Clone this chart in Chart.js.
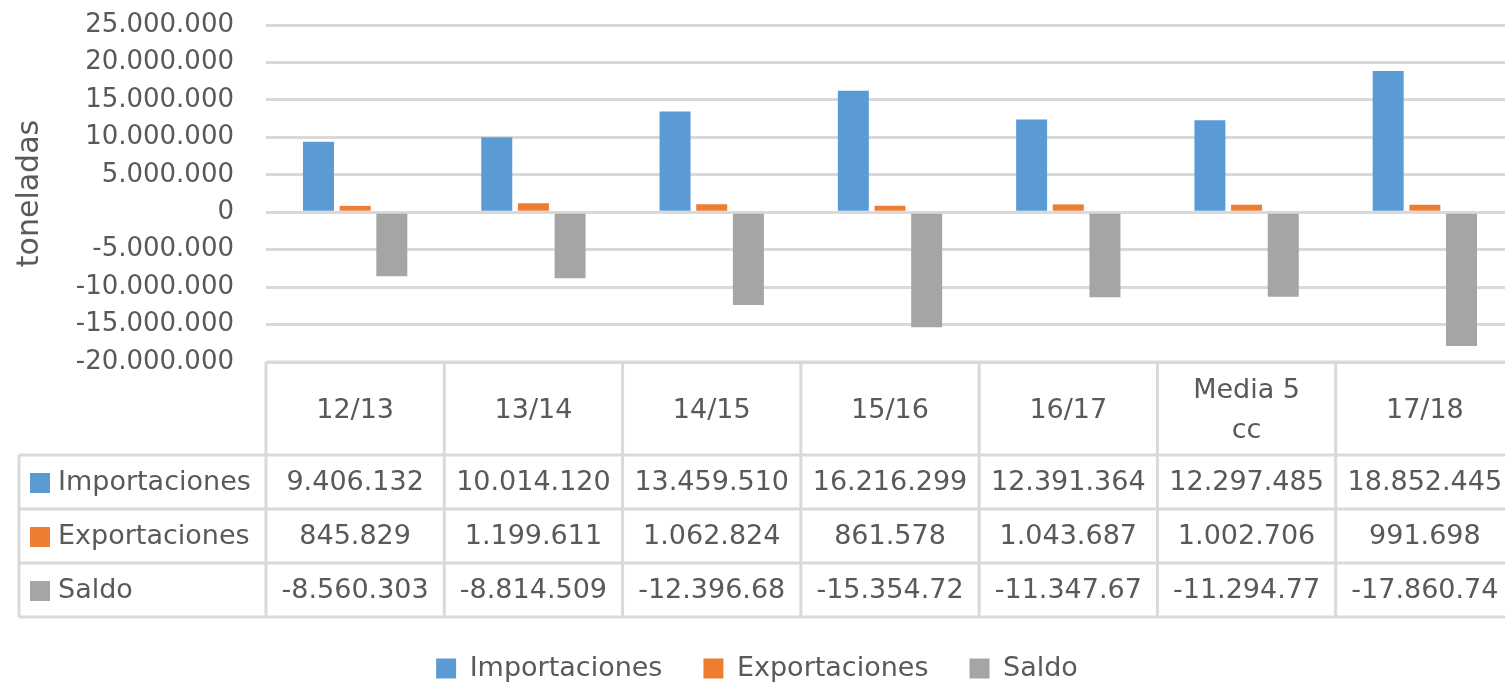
<!DOCTYPE html>
<html>
<head>
<meta charset="utf-8">
<script src="https://cdn.jsdelivr.net/npm/chart.js@4.4.0/dist/chart.umd.min.js"></script>
<style>
  html, body { margin: 0; padding: 0; overflow: hidden; background: #fff; }
  #wrap { width: 1505px; height: 685px; overflow: hidden; }
  canvas { display: block; }
</style>
</head>
<body>
<div id="wrap"><canvas id="chart" width="1514" height="692"></canvas></div>
<script>
  // Campañas (cabecera de la tabla)
  const categorias = ['12/13', '13/14', '14/15', '15/16', '16/17', ['Media 5', 'cc'], '17/18'];

  // toneladas
  const importaciones = [9406132, 10014120, 13459510, 16216299, 12391364, 12297485, 18852445];
  const exportaciones = [845829, 1199611, 1062824, 861578, 1043687, 1002706, 991698];
  const saldo = [-8560303, -8814509, -12396680, -15354720, -11347670, -11294770, -17860740];

  // Excel corta los saldos largos en la tabla
  const saldoTexto = ['-8.560.303', '-8.814.509', '-12.396.68', '-15.354.72', '-11.347.67', '-11.294.77', '-17.860.74'];

  const yMin = -20000000;
  const yMax = 25000000;
  const yStep = 5000000;

  const colores = ['#5b9bd5', '#ed7d31', '#a5a5a5'];
  const textColor = '#595959';
  const lineColor = '#d9d9d9';
  const plotBottom = 362;

  function fmt(v) {
    return String(v).replace(/\B(?=(\d{3})+(?!\d))/g, '.');
  }

  // Data table under the plot, columns taken from the x scale
  const tablaDatos = {
    id: 'tablaDatos',
    afterDraw(chart) {
      const { ctx, chartArea, scales: { x } } = chart;
      const colW = x.width / categorias.length;
      const top = chartArea.bottom;
      const headerH = 93;
      const rowH = 54;
      const tableLeft = 19;
      const bottom = top + headerH + rowH * 3;
      const right = chartArea.right;

      const ds = chart.data.datasets;
      const rows = [
        { label: ds[0].label, color: ds[0].backgroundColor, texts: importaciones.map(fmt) },
        { label: ds[1].label, color: ds[1].backgroundColor, texts: exportaciones.map(fmt) },
        { label: ds[2].label, color: ds[2].backgroundColor, texts: saldoTexto }
      ];

      ctx.save();
      ctx.strokeStyle = lineColor;
      ctx.lineWidth = 3;
      ctx.beginPath();
      ctx.moveTo(chartArea.left, top);
      ctx.lineTo(right, top);
      for (let k = 0; k <= 3; k++) {
        const yy = top + headerH + rowH * k;
        ctx.moveTo(tableLeft, yy);
        ctx.lineTo(right, yy);
      }
      ctx.moveTo(tableLeft, top + headerH);
      ctx.lineTo(tableLeft, bottom);
      for (let i = 0; i <= categorias.length; i++) {
        const xx = chartArea.left + i * colW;
        ctx.moveTo(xx, top);
        ctx.lineTo(xx, bottom);
      }
      ctx.stroke();

      ctx.fillStyle = textColor;
      ctx.font = '27px "DejaVu Sans"';
      ctx.textBaseline = 'middle';
      ctx.textAlign = 'center';
      categorias.forEach((c, i) => {
        const cx = x.getPixelForValue(i);
        const cy = top + headerH / 2 + 2;
        if (Array.isArray(c)) {
          const lh = 40;
          c.forEach((line, j) => {
            ctx.fillText(line, cx, cy + (j - (c.length - 1) / 2) * lh);
          });
        } else {
          ctx.fillText(c, cx, cy);
        }
      });

      rows.forEach((r, k) => {
        const cy = top + headerH + rowH * k + rowH / 2 + 1;
        ctx.fillStyle = r.color;
        ctx.fillRect(30, cy - 10, 20, 20);
        ctx.fillStyle = textColor;
        ctx.textAlign = 'left';
        ctx.fillText(r.label, 58, cy);
        ctx.textAlign = 'center';
        r.texts.forEach((t, i) => {
          ctx.fillText(t, x.getPixelForValue(i), cy);
        });
      });
      ctx.restore();
    }
  };

  Chart.defaults.font.family = '"DejaVu Sans"';
  Chart.defaults.color = textColor;

  new Chart(document.getElementById('chart'), {
    type: 'bar',
    data: {
      labels: categorias,
      datasets: [
        { label: 'Importaciones', data: importaciones, backgroundColor: colores[0] },
        { label: 'Exportaciones', data: exportaciones, backgroundColor: colores[1] },
        { label: 'Saldo', data: saldo, backgroundColor: colores[2] }
      ]
    },
    options: {
      responsive: false,
      animation: false,
      devicePixelRatio: 1,
      layout: { padding: { top: 25, left: 0, right: 0, bottom: 0 } },
      datasets: {
        bar: { categoryPercentage: 0.617, barPercentage: 0.845, borderWidth: 0 }
      },
      plugins: {
        tooltip: { enabled: false },
        legend: {
          position: 'bottom',
          labels: {
            boxWidth: 20,
            boxHeight: 20,
            padding: 41,
            color: textColor,
            font: { size: 27 }
          }
        }
      },
      scales: {
        x: {
          ticks: { display: false },
          grid: { display: false },
          border: { display: false },
          afterFit(s) {
            const lg = s.chart.legend;
            s.height = s.chart.height - plotBottom - (lg ? lg.height : 78);
          }
        },
        y: {
          min: yMin,
          max: yMax,
          ticks: {
            stepSize: yStep,
            padding: 32,
            color: textColor,
            font: { size: 26 },
            callback: v => fmt(v)
          },
          grid: { color: lineColor, lineWidth: 3, drawTicks: false },
          border: { display: false },
          title: {
            display: true,
            text: 'toneladas',
            color: textColor,
            font: { size: 30 },
            padding: { top: 12, bottom: 0 }
          },
          afterFit(s) {
            s.width = 266;
            // tick padding is also added above/below on vertical axes; drop it
            s.paddingTop = 0;
            s.paddingBottom = 0;
          }
        }
      }
    },
    plugins: [tablaDatos]
  });
</script>
</body>
</html>
